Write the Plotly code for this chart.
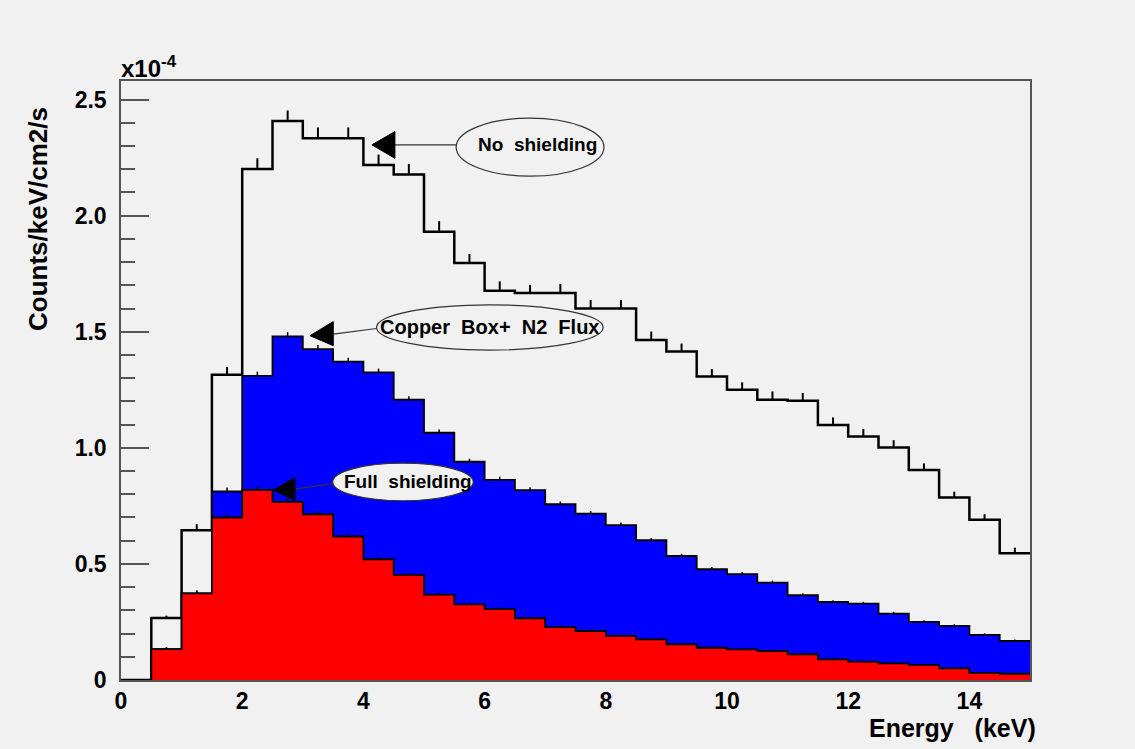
import numpy as np
import plotly.graph_objects as go

# Energy binning: 30 bins of 0.5 keV from 0 to 15 keV
bin_edges = np.linspace(0.0, 15.0, 31)

# Background rates in units of 1e-4 counts/keV/cm2/s
no_shielding = [0.0, 0.267, 0.645, 1.315, 2.201, 2.408, 2.333, 2.333, 2.218, 2.177,
                1.931, 1.796, 1.677, 1.667, 1.667, 1.600, 1.600, 1.464, 1.415, 1.307,
                1.250, 1.207, 1.203, 1.098, 1.049, 1.001, 0.904, 0.786, 0.690, 0.546]
copper_box_n2 = [0.0, 0.133, 0.373, 0.812, 1.310, 1.480, 1.425, 1.371, 1.325, 1.207,
                 1.065, 0.940, 0.862, 0.818, 0.757, 0.717, 0.667, 0.602, 0.534, 0.477,
                 0.456, 0.419, 0.365, 0.336, 0.329, 0.286, 0.250, 0.233, 0.194, 0.168]
full_shielding = [0.0, 0.133, 0.373, 0.700, 0.819, 0.767, 0.714, 0.618, 0.520, 0.453,
                  0.368, 0.326, 0.305, 0.266, 0.228, 0.211, 0.190, 0.175, 0.154, 0.139,
                  0.132, 0.125, 0.111, 0.089, 0.079, 0.072, 0.065, 0.050, 0.031, 0.027]

# Statistical errors (same units)
no_shielding_err = [0.0, 0.010, 0.026, 0.033, 0.046, 0.045, 0.047, 0.047, 0.045, 0.046,
                    0.045, 0.039, 0.040, 0.035, 0.039, 0.037, 0.037, 0.037, 0.034, 0.032,
                    0.032, 0.036, 0.033, 0.033, 0.032, 0.032, 0.029, 0.025, 0.024, 0.024]
copper_box_n2_err = [0.0, 0.008, 0.012, 0.017, 0.018, 0.018, 0.018, 0.017, 0.016, 0.015,
                     0.014, 0.013, 0.013, 0.012, 0.012, 0.011, 0.011, 0.010, 0.010, 0.010,
                     0.009, 0.009, 0.009, 0.008, 0.008, 0.008, 0.007, 0.007, 0.007, 0.006]
full_shielding_err = [0.0, 0.008, 0.012, 0.015, 0.015, 0.014, 0.013, 0.012, 0.011, 0.010,
                      0.009, 0.009, 0.008, 0.008, 0.007, 0.007, 0.007, 0.006, 0.006, 0.006,
                      0.006, 0.005, 0.005, 0.005, 0.005, 0.004, 0.004, 0.004, 0.003, 0.003]

y_tick_vals = [0, 0.5, 1.0, 1.5, 2.0, 2.5]
y_tick_text = ["0", "0.5", "1.0", "1.5", "2.0", "2.5"]
x_tick_vals = [0, 2, 4, 6, 8, 10, 12, 14]
x_tick_text = ["0", "2", "4", "6", "8", "10", "12", "14"]

BG = "#f1f1f1"
FONT = "Liberation Sans"
NB = "\u00a0"


def step_xy(values):
    xs = list(bin_edges[:-1]) + [bin_edges[-1]]
    ys = list(values) + [values[-1]]
    return xs, ys


def error_trace(values, errs, thickness):
    centers = (bin_edges[:-1] + bin_edges[1:]) / 2
    keep = [i for i, v in enumerate(values) if v > 0]
    return go.Scatter(
        x=[centers[i] for i in keep], y=[values[i] for i in keep],
        mode="lines", line=dict(width=0, color="rgba(0,0,0,0)"),
        error_y=dict(type="data", symmetric=False,
                     array=[errs[i] for i in keep], arrayminus=[0] * len(keep),
                     color="black", thickness=thickness, width=0),
        showlegend=False, hoverinfo="skip")


fig = go.Figure()

# No shielding: outline only
xs, ys = step_xy(no_shielding)
fig.add_trace(go.Scatter(x=xs, y=ys, mode="lines", line_shape="hv",
                         line=dict(color="black", width=2.5), showlegend=False))
fig.add_trace(error_trace(no_shielding, no_shielding_err, 2))

# Copper box + N2 flux: blue filled
xs, ys = step_xy(copper_box_n2)
fig.add_trace(go.Scatter(x=xs, y=ys, mode="lines", line_shape="hv", fill="tozeroy",
                         fillcolor="#0000ff", line=dict(color="black", width=1.8),
                         showlegend=False))
fig.add_trace(error_trace(copper_box_n2, copper_box_n2_err, 1.5))

# Full shielding: red filled
xs, ys = step_xy(full_shielding)
fig.add_trace(go.Scatter(x=xs, y=ys, mode="lines", line_shape="hv", fill="tozeroy",
                         fillcolor="#ff0000", line=dict(color="black", width=1.8),
                         showlegend=False))
fig.add_trace(error_trace(full_shielding, full_shielding_err, 1.5))

# Labels with ellipses and arrows
labels = [
    # text, font size, ellipse (x0, x1, y0, y1), text centre, tip, base x, base y range, line start, line end
    (f"No{NB}{NB}shielding", 19, (5.53, 7.97, 2.17, 2.42), (6.88, 2.305),
     (4.14, 2.305), 4.52, (2.247, 2.362), (4.52, 2.305), (5.53, 2.305)),
    (f"Copper{NB}{NB}Box+{NB}{NB}N2{NB}{NB}Flux", 20, (4.217, 7.956, 1.421, 1.616), (6.085, 1.522),
     (3.119, 1.483), 3.503, (1.440, 1.544), (3.503, 1.490), (4.217, 1.514)),
    (f"Full{NB}{NB}shielding", 19, (3.493, 5.813, 0.772, 0.934), (4.74, 0.853),
     (2.513, 0.818), 2.871, (0.772, 0.872), (2.871, 0.822), (3.493, 0.846)),
]

shapes = []
annotations = []
for text, fsize, ell, tc, tip, bx, by, l0, l1 in labels:
    shapes.append(dict(type="line", xref="x", yref="y", x0=l0[0], y0=l0[1], x1=l1[0], y1=l1[1],
                       line=dict(color="#333333", width=1.2)))
    shapes.append(dict(type="path", xref="x", yref="y",
                       path=f"M {tip[0]},{tip[1]} L {bx},{by[1]} L {bx},{by[0]} Z",
                       fillcolor="black", line=dict(color="black", width=1)))
    shapes.append(dict(type="circle", xref="x", yref="y", x0=ell[0], x1=ell[1], y0=ell[2], y1=ell[3],
                       fillcolor=BG, line=dict(color="#333333", width=1.2)))
    annotations.append(dict(x=tc[0], y=tc[1], xref="x", yref="y", text=text, showarrow=False,
                            font=dict(family=FONT, size=fsize, color="black", weight="bold"),
                            xanchor="center", yanchor="middle"))

# Axis titles and exponent
annotations.append(dict(x=1.0, y=-0.080, xref="paper", yref="paper", xanchor="right", yanchor="middle",
                        xshift=8, text=f"Energy{NB}{NB}{NB}(keV)", showarrow=False,
                        font=dict(family=FONT, size=25, color="black", weight="bold")))
annotations.append(dict(x=0, y=1.0, xref="paper", yref="paper", xanchor="right", yanchor="top",
                        xshift=-66, yshift=-24, text="Counts/keV/cm2/s", textangle=-90, showarrow=False,
                        font=dict(family=FONT, size=26, color="black", weight="bold")))
annotations.append(dict(x=0, y=1.0, xref="paper", yref="paper", xanchor="left", yanchor="bottom",
                        xshift=-2, yshift=-3, text="x10<sup>-4</sup>", showarrow=False,
                        font=dict(family=FONT, size=24, color="black", weight="bold")))

fig.update_layout(
    width=1135, height=749,
    margin=dict(l=121, r=105, t=81, b=69),
    paper_bgcolor=BG, plot_bgcolor=BG,
    shapes=shapes, annotations=annotations,
    showlegend=False,
)
fig.update_xaxes(range=[0, 15], showgrid=False, zeroline=False, showline=True, mirror=True,
                 linecolor="#555555", linewidth=1.5, ticks="",
                 tickvals=x_tick_vals, ticktext=x_tick_text,
                 tickfont=dict(family=FONT, size=23, color="black", weight="bold"))
fig.update_yaxes(range=[0, 2.58], showgrid=False, zeroline=False, showline=True, mirror=True,
                 linecolor="#555555", linewidth=1.5, ticks="inside", ticklen=28, tickwidth=1.5,
                 tickcolor="#555555", tickvals=y_tick_vals, ticktext=y_tick_text,
                 ticklabelstandoff=8,
                 minor=dict(ticks="inside", ticklen=14, tickwidth=1.5, tickcolor="#555555", dtick=0.1,
                            tick0=0),
                 tickfont=dict(family=FONT, size=23, color="black", weight="bold"))

fig.write_html("out.html")
